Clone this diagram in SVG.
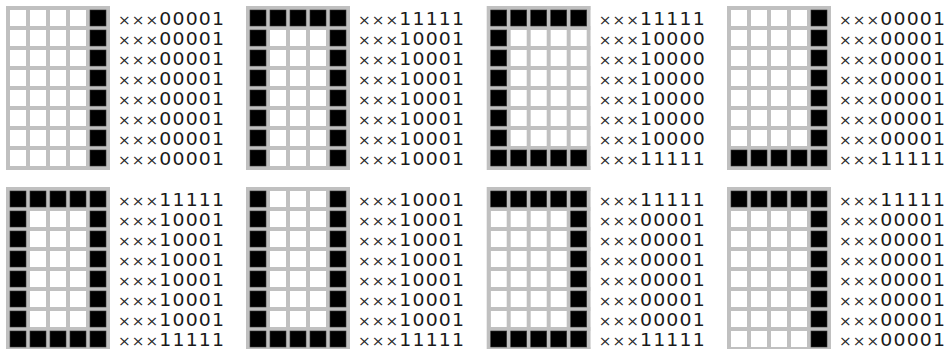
<svg xmlns="http://www.w3.org/2000/svg" xmlns:xlink="http://www.w3.org/1999/xlink" width="952" height="349" viewBox="0 0 952 349">
<style>
.frame{fill:#c0c0c0}
.on{fill:#000;stroke:#333;stroke-width:0.6}
.t{font-family:"DejaVu Sans","Liberation Sans",sans-serif;font-size:17.5px;fill:#1a1a1a;letter-spacing:1.1px}
.x{font-size:14px;fill:#2a2a2a;letter-spacing:1px}
</style>
<defs>
<pattern id="cells" x="4" y="4" width="20" height="20" patternUnits="userSpaceOnUse"><rect width="16" height="16" fill="#fff"/></pattern>
<rect id="b" width="16" height="16" class="on"/>
<g id="grid"><rect class="frame" width="104" height="164"/><rect x="4" y="4" width="100" height="160" fill="url(#cells)"/></g>
<g id="colL"><use xlink:href="#b" x="4" y="24"/><use xlink:href="#b" x="4" y="44"/><use xlink:href="#b" x="4" y="64"/><use xlink:href="#b" x="4" y="84"/><use xlink:href="#b" x="4" y="104"/><use xlink:href="#b" x="4" y="124"/></g>
<g id="colR"><use xlink:href="#b" x="84" y="24"/><use xlink:href="#b" x="84" y="44"/><use xlink:href="#b" x="84" y="64"/><use xlink:href="#b" x="84" y="84"/><use xlink:href="#b" x="84" y="104"/><use xlink:href="#b" x="84" y="124"/></g>
<g id="rowT"><use xlink:href="#b" x="4" y="4"/><use xlink:href="#b" x="24" y="4"/><use xlink:href="#b" x="44" y="4"/><use xlink:href="#b" x="64" y="4"/><use xlink:href="#b" x="84" y="4"/></g>
<g id="rowB"><use xlink:href="#b" x="4" y="144"/><use xlink:href="#b" x="24" y="144"/><use xlink:href="#b" x="44" y="144"/><use xlink:href="#b" x="64" y="144"/><use xlink:href="#b" x="84" y="144"/></g>
</defs>

<g id="panel1" transform="translate(6,6)">
<use xlink:href="#grid"/>
<use xlink:href="#b" x="84" y="4"/><use xlink:href="#colR"/><use xlink:href="#b" x="84" y="144"/>
<g class="t" transform="translate(112,0) scale(1.08,1)">
<text y="19"><tspan class="x">×××</tspan>00001</text>
<text y="39"><tspan class="x">×××</tspan>00001</text>
<text y="59"><tspan class="x">×××</tspan>00001</text>
<text y="79"><tspan class="x">×××</tspan>00001</text>
<text y="99"><tspan class="x">×××</tspan>00001</text>
<text y="119"><tspan class="x">×××</tspan>00001</text>
<text y="139"><tspan class="x">×××</tspan>00001</text>
<text y="159"><tspan class="x">×××</tspan>00001</text>
</g>
</g>

<g id="panel2" transform="translate(246,6)">
<use xlink:href="#grid"/>
<use xlink:href="#rowT"/><use xlink:href="#colL"/><use xlink:href="#colR"/><use xlink:href="#b" x="4" y="144"/><use xlink:href="#b" x="84" y="144"/>
<g class="t" transform="translate(112,0) scale(1.08,1)">
<text y="19"><tspan class="x">×××</tspan>11111</text>
<text y="39"><tspan class="x">×××</tspan>10001</text>
<text y="59"><tspan class="x">×××</tspan>10001</text>
<text y="79"><tspan class="x">×××</tspan>10001</text>
<text y="99"><tspan class="x">×××</tspan>10001</text>
<text y="119"><tspan class="x">×××</tspan>10001</text>
<text y="139"><tspan class="x">×××</tspan>10001</text>
<text y="159"><tspan class="x">×××</tspan>10001</text>
</g>
</g>

<g id="panel3" transform="translate(486.7,6)">
<use xlink:href="#grid"/>
<use xlink:href="#rowT"/><use xlink:href="#colL"/><use xlink:href="#rowB"/>
<g class="t" transform="translate(112,0) scale(1.08,1)">
<text y="19"><tspan class="x">×××</tspan>11111</text>
<text y="39"><tspan class="x">×××</tspan>10000</text>
<text y="59"><tspan class="x">×××</tspan>10000</text>
<text y="79"><tspan class="x">×××</tspan>10000</text>
<text y="99"><tspan class="x">×××</tspan>10000</text>
<text y="119"><tspan class="x">×××</tspan>10000</text>
<text y="139"><tspan class="x">×××</tspan>10000</text>
<text y="159"><tspan class="x">×××</tspan>11111</text>
</g>
</g>

<g id="panel4" transform="translate(727,6)">
<use xlink:href="#grid"/>
<use xlink:href="#b" x="84" y="4"/><use xlink:href="#colR"/><use xlink:href="#rowB"/>
<g class="t" transform="translate(112,0) scale(1.08,1)">
<text y="19"><tspan class="x">×××</tspan>00001</text>
<text y="39"><tspan class="x">×××</tspan>00001</text>
<text y="59"><tspan class="x">×××</tspan>00001</text>
<text y="79"><tspan class="x">×××</tspan>00001</text>
<text y="99"><tspan class="x">×××</tspan>00001</text>
<text y="119"><tspan class="x">×××</tspan>00001</text>
<text y="139"><tspan class="x">×××</tspan>00001</text>
<text y="159"><tspan class="x">×××</tspan>11111</text>
</g>
</g>

<g id="panel5" transform="translate(6,187)">
<use xlink:href="#grid"/>
<use xlink:href="#rowT"/><use xlink:href="#colL"/><use xlink:href="#colR"/><use xlink:href="#rowB"/>
<g class="t" transform="translate(112,0) scale(1.08,1)">
<text y="19"><tspan class="x">×××</tspan>11111</text>
<text y="39"><tspan class="x">×××</tspan>10001</text>
<text y="59"><tspan class="x">×××</tspan>10001</text>
<text y="79"><tspan class="x">×××</tspan>10001</text>
<text y="99"><tspan class="x">×××</tspan>10001</text>
<text y="119"><tspan class="x">×××</tspan>10001</text>
<text y="139"><tspan class="x">×××</tspan>10001</text>
<text y="159"><tspan class="x">×××</tspan>11111</text>
</g>
</g>

<g id="panel6" transform="translate(246,187)">
<use xlink:href="#grid"/>
<use xlink:href="#b" x="4" y="4"/><use xlink:href="#b" x="84" y="4"/><use xlink:href="#colL"/><use xlink:href="#colR"/><use xlink:href="#rowB"/>
<g class="t" transform="translate(112,0) scale(1.08,1)">
<text y="19"><tspan class="x">×××</tspan>10001</text>
<text y="39"><tspan class="x">×××</tspan>10001</text>
<text y="59"><tspan class="x">×××</tspan>10001</text>
<text y="79"><tspan class="x">×××</tspan>10001</text>
<text y="99"><tspan class="x">×××</tspan>10001</text>
<text y="119"><tspan class="x">×××</tspan>10001</text>
<text y="139"><tspan class="x">×××</tspan>10001</text>
<text y="159"><tspan class="x">×××</tspan>11111</text>
</g>
</g>

<g id="panel7" transform="translate(486.7,187)">
<use xlink:href="#grid"/>
<use xlink:href="#rowT"/><use xlink:href="#colR"/><use xlink:href="#rowB"/>
<g class="t" transform="translate(112,0) scale(1.08,1)">
<text y="19"><tspan class="x">×××</tspan>11111</text>
<text y="39"><tspan class="x">×××</tspan>00001</text>
<text y="59"><tspan class="x">×××</tspan>00001</text>
<text y="79"><tspan class="x">×××</tspan>00001</text>
<text y="99"><tspan class="x">×××</tspan>00001</text>
<text y="119"><tspan class="x">×××</tspan>00001</text>
<text y="139"><tspan class="x">×××</tspan>00001</text>
<text y="159"><tspan class="x">×××</tspan>11111</text>
</g>
</g>

<g id="panel8" transform="translate(727,187)">
<use xlink:href="#grid"/>
<use xlink:href="#rowT"/><use xlink:href="#colR"/><use xlink:href="#b" x="84" y="144"/>
<g class="t" transform="translate(112,0) scale(1.08,1)">
<text y="19"><tspan class="x">×××</tspan>11111</text>
<text y="39"><tspan class="x">×××</tspan>00001</text>
<text y="59"><tspan class="x">×××</tspan>00001</text>
<text y="79"><tspan class="x">×××</tspan>00001</text>
<text y="99"><tspan class="x">×××</tspan>00001</text>
<text y="119"><tspan class="x">×××</tspan>00001</text>
<text y="139"><tspan class="x">×××</tspan>00001</text>
<text y="159"><tspan class="x">×××</tspan>00001</text>
</g>
</g>
</svg>
